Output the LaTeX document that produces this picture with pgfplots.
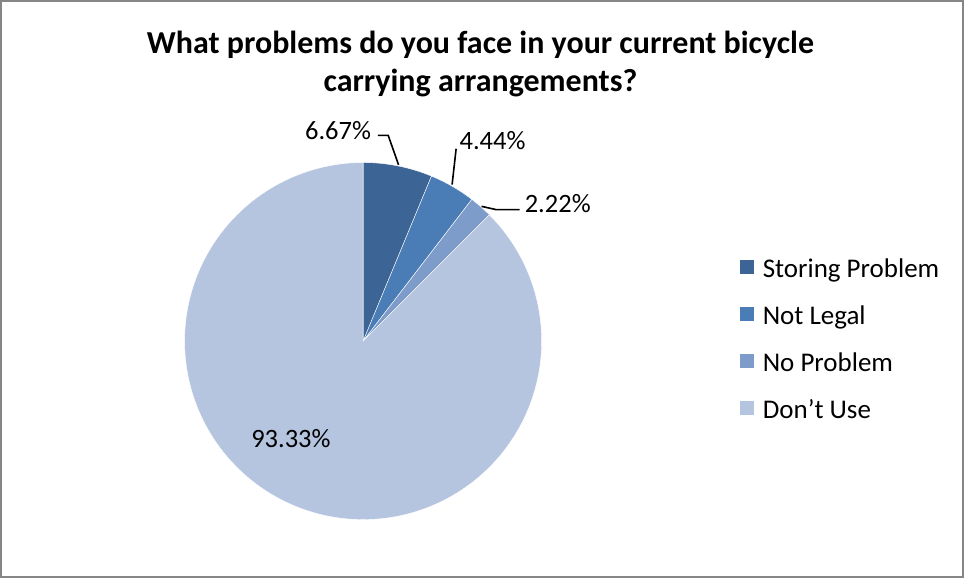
\documentclass[border=0pt]{standalone}
\usepackage{pgfplots}
\pgfplotsset{compat=1.18}
\usepackage{fontspec}
\setmainfont{Carlito}
\definecolor{cA}{HTML}{3C6494}
\definecolor{cB}{HTML}{4A7CB6}
\definecolor{cC}{HTML}{7E9CC9}
\definecolor{cD}{HTML}{B5C4DF}
\definecolor{frame}{HTML}{868686}
% data (percent)
\def\vA{6.67}\def\vB{4.44}\def\vC{2.22}\def\vD{93.33}
\pgfmathsetmacro\tot{\vA+\vB+\vC+\vD}
\pgfmathsetmacro\aA{360*\vA/\tot}
\pgfmathsetmacro\aB{\aA+360*\vB/\tot}
\pgfmathsetmacro\aC{\aB+360*\vC/\tot}
\begin{document}
\begin{tikzpicture}
\begin{axis}[
  scale only axis, width=964bp, height=577bp,
  xmin=0, xmax=964, ymin=0, ymax=577, y dir=reverse,
  hide axis, clip=false,
  legend style={draw=none, fill=none, inner sep=0pt, outer sep=0pt,
    at={(axis cs:739,258)}, anchor=north west,
    font=\fontsize{27}{30}\selectfont,
    nodes={inner sep=0pt, text height=18bp, text depth=5bp},
    row sep=23.7bp, column sep=8bp},
  legend cell align=left,
  legend image code/.code={\fill[#1] (0bp,-3.5bp) rectangle (15bp,11.5bp);},
]
\draw[frame, line width=2bp] (axis cs:3,1) rectangle (axis cs:962,575);
\addplot[fill=cA, draw=white, line width=0.4bp, domain=0:\aA, samples=20, variable=\t]
  ({364+178*sin(\t)},{340-178*cos(\t)}) -- (axis cs:364,340) -- cycle;
\addlegendentry{Storing Problem}
\addplot[fill=cB, draw=white, line width=0.4bp, domain=\aA:\aB, samples=20, variable=\t]
  ({364+178*sin(\t)},{340-178*cos(\t)}) -- (axis cs:364,340) -- cycle;
\addlegendentry{Not Legal}
\addplot[fill=cC, draw=white, line width=0.4bp, domain=\aB:\aC, samples=10, variable=\t]
  ({364+178*sin(\t)},{340-178*cos(\t)}) -- (axis cs:364,340) -- cycle;
\addlegendentry{No Problem}
\addplot[fill=cD, draw=white, line width=0.4bp, domain=\aC:360, samples=120, variable=\t]
  ({364+178*sin(\t)},{340-178*cos(\t)}) -- (axis cs:364,340) -- cycle;
\addlegendentry{Don’t Use}
% title
\node[font=\bfseries\fontsize{32}{38}\selectfont, align=center] at (axis cs:481,64)
  {What problems do you face in your current bicycle\\carrying arrangements?};
% data labels
\begin{scope}[every node/.style={font=\fontsize{26.5}{30}\selectfont, inner sep=0pt}]
\node at (axis cs:339,130) {6.67\%};
\node at (axis cs:493,140) {4.44\%};
\node at (axis cs:558,203) {2.22\%};
\node at (axis cs:292,437) {93.33\%};
\end{scope}
\draw[black, line width=1.6bp] (axis cs:378.7,135) -- (axis cs:389,135) -- (axis cs:399.3,164.3);
\draw[black, line width=1.6bp] (axis cs:456.7,148.3) -- (axis cs:452.7,184);
\draw[black, line width=1.6bp] (axis cs:482,205.7) -- (axis cs:496.7,209) -- (axis cs:520,209);
\end{axis}
\end{tikzpicture}
\end{document}
